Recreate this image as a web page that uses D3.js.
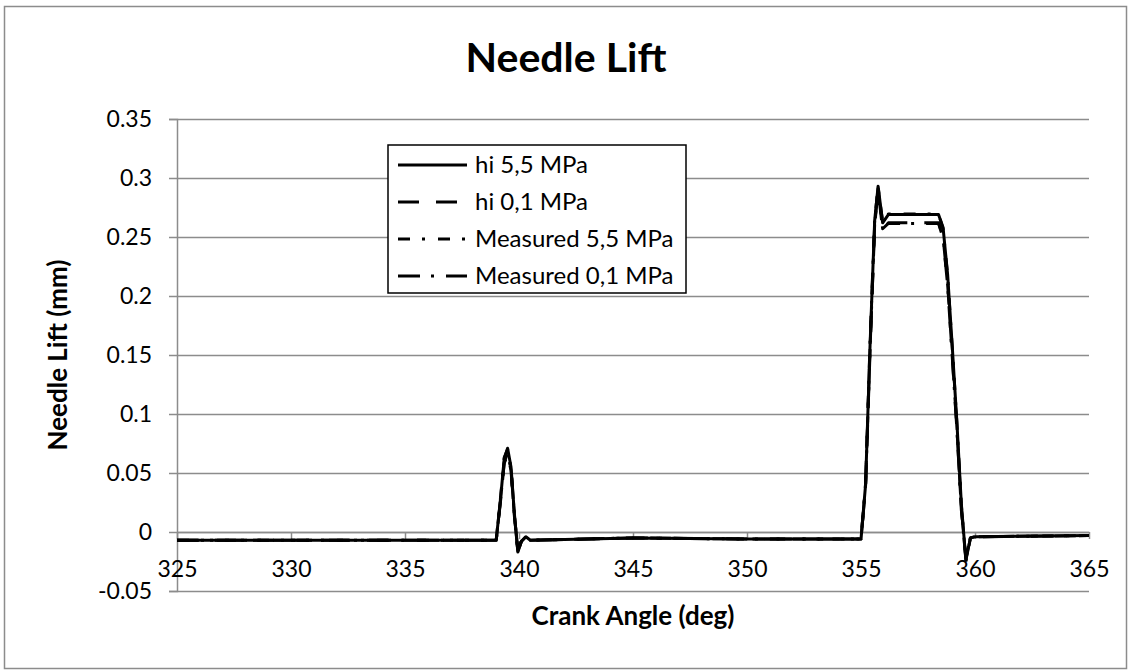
<!DOCTYPE html>
<html>
<head>
<meta charset="utf-8">
<script src="https://cdn.jsdelivr.net/npm/d3@7"></script>
<style>
  body { margin: 0; background: #fff; }
  text { font-family: Lato, "Open Sans", sans-serif; fill: #000; }
</style>
</head>
<body>
<svg id="chart" width="1132" height="671"></svg>
<script>
// crank angle samples (deg), shared by every series
var angles = [325, 339.0, 339.2, 339.35, 339.5, 339.65, 339.8, 339.95, 340.1, 340.3, 340.5,
  345, 350, 355.0, 355.2, 355.4, 355.6, 355.75, 355.95, 356.2, 358.4, 358.6, 358.8,
  359.0, 359.2, 359.4, 359.6, 359.8, 360, 365];

var hi55 = [-0.007, -0.007, 0.030, 0.062, 0.071, 0.055, 0.015, -0.017, -0.008, -0.004, -0.007,
  -0.005, -0.006, -0.006, 0.040, 0.160, 0.264, 0.293, 0.262, 0.269, 0.269, 0.258, 0.218,
  0.158, 0.095, 0.024, -0.024, -0.005, -0.004, -0.003];
var hi01 = [-0.007, -0.007, 0.028, 0.058, 0.066, 0.052, 0.013, -0.016, -0.008, -0.004, -0.007,
  -0.005, -0.006, -0.006, 0.038, 0.155, 0.260, 0.290, 0.256, 0.262, 0.262, 0.250, 0.210,
  0.150, 0.090, 0.020, -0.022, -0.005, -0.004, -0.003];
var meas55 = [-0.007, -0.007, 0.031, 0.063, 0.070, 0.054, 0.014, -0.017, -0.008, -0.004, -0.007,
  -0.005, -0.006, -0.006, 0.041, 0.162, 0.265, 0.292, 0.263, 0.2695, 0.2695, 0.257, 0.217,
  0.157, 0.094, 0.023, -0.025, -0.005, -0.004, -0.003];
var meas01 = [-0.007, -0.007, 0.029, 0.059, 0.067, 0.053, 0.014, -0.016, -0.008, -0.004, -0.007,
  -0.005, -0.006, -0.006, 0.039, 0.157, 0.261, 0.291, 0.257, 0.2615, 0.2615, 0.249, 0.209,
  0.149, 0.089, 0.019, -0.023, -0.005, -0.004, -0.003];

var seriesNames = ["hi 5,5 MPa", "hi 0,1 MPa", "Measured 5,5 MPa", "Measured 0,1 MPa"];
var seriesValues = [hi55, hi01, meas55, meas01];
var seriesDash = [null, "21,17", "12,12,3,13", "22,11,3,12"];

var xTicks = [325, 330, 335, 340, 345, 350, 355, 360, 365];
var yTicks = [-0.05, 0, 0.05, 0.1, 0.15, 0.2, 0.25, 0.3, 0.35];

var margin = { top: 119, right: 43, bottom: 80, left: 177 },
  width = 1132 - margin.left - margin.right,
  height = 591 - margin.top;

var svg = d3.select("#chart");

// outer chart frame
svg.append("rect")
  .attr("x", 4.5).attr("y", 6.5)
  .attr("width", 1122).attr("height", 662)
  .attr("fill", "#fff")
  .attr("stroke", "#8c8c8c")
  .attr("stroke-width", 1.5);

var x = d3.scaleLinear().domain([325, 365]).range([0, width]);
var y = d3.scaleLinear().domain([-0.05, 0.35]).range([height, 0]);

var g = svg.append("g").attr("transform", "translate(" + margin.left + "," + margin.top + ")");

// y axis with gridlines
var yAxis = d3.axisLeft(y)
  .tickValues(yTicks)
  .tickSize(8)
  .tickPadding(17)
  .tickFormat(d => String(+d.toFixed(2)));
var gy = g.append("g").call(yAxis);
gy.select(".domain").attr("stroke", "#8c8c8c").attr("stroke-width", 1.5);
gy.selectAll(".tick line")
  .attr("x2", width)
  .attr("x1", -8)
  .attr("stroke", "#8c8c8c")
  .attr("stroke-width", 1.5);
gy.selectAll(".tick text").style("font-size", "23px");

// x axis at zero, labels sit low like the original
var xAxis = d3.axisBottom(x)
  .tickValues(xTicks)
  .tickSize(7)
  .tickPadding(26)
  .tickSizeOuter(0);
var gx = g.append("g").attr("transform", "translate(0," + y(0) + ")").call(xAxis);
gx.select(".domain").attr("stroke", "#8c8c8c").attr("stroke-width", 1.5);
gx.selectAll(".tick line").attr("stroke", "#8c8c8c").attr("stroke-width", 1.5);
gx.selectAll(".tick text").style("font-size", "23px").attr("dy", "0.5em");

// data lines
var line = d3.line()
  .x((d, i) => x(angles[i]))
  .y(d => y(d));

g.selectAll(".series")
  .data(seriesValues)
  .join("path")
  .attr("class", "series")
  .attr("fill", "none")
  .attr("stroke", "#000")
  .attr("stroke-width", 3)
  .attr("stroke-linejoin", "round")
  .attr("stroke-dasharray", (d, i) => seriesDash[i])
  .attr("d", line);

// title centred on the whole chart, axis titles on the plot
svg.append("text")
  .attr("x", 566).attr("y", 72)
  .attr("text-anchor", "middle")
  .style("font-size", "41px").style("font-weight", "bold")
  .text("Needle Lift");

svg.append("text")
  .attr("x", margin.left + width / 2).attr("y", 625)
  .attr("text-anchor", "middle")
  .style("font-size", "26px").style("font-weight", "bold")
  .text("Crank Angle (deg)");

svg.append("text")
  .attr("transform", "translate(67," + (margin.top + height / 2) + ") rotate(-90)")
  .attr("text-anchor", "middle")
  .style("font-size", "26px").style("font-weight", "bold")
  .text("Needle Lift (mm)");

// legend
var legend = svg.append("g").attr("transform", "translate(388,145)");
legend.append("rect")
  .attr("width", 298).attr("height", 148)
  .attr("fill", "#fff").attr("stroke", "#000").attr("stroke-width", 1.5);

var rows = legend.selectAll(".row")
  .data(seriesNames)
  .join("g")
  .attr("class", "row")
  .attr("transform", (d, i) => "translate(0," + (20 + i * 37) + ")");

rows.append("line")
  .attr("x1", 10).attr("x2", 79)
  .attr("stroke", "#000").attr("stroke-width", 3)
  .attr("stroke-dasharray", (d, i) => seriesDash[i]);

rows.append("text")
  .attr("x", 87).attr("dy", "0.35em")
  .style("font-size", "24px")
  .text(d => d);
</script>
</body>
</html>
